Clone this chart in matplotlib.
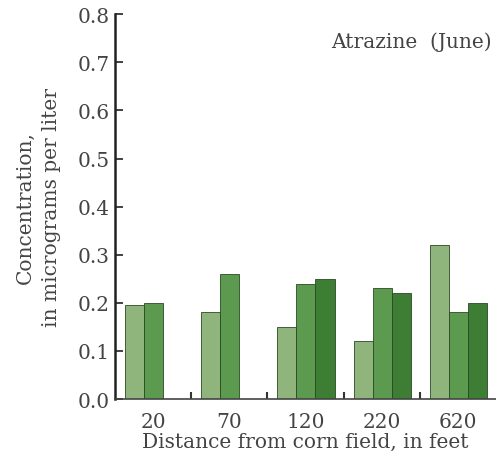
import matplotlib
matplotlib.use("Agg")
import matplotlib.pyplot as plt
import numpy as np

categories = ["20", "70", "120", "220", "620"]
light_vals = [0.195, 0.18, 0.15, 0.12, 0.32]
mid_vals = [0.20, 0.26, 0.24, 0.23, 0.18]
dark_vals = [np.nan, np.nan, 0.25, 0.22, 0.20]
yticks = [0.0, 0.1, 0.2, 0.3, 0.4, 0.5, 0.6, 0.7, 0.8]

plt.rcParams['font.family'] = ['DejaVu Serif']
txt = '#444444'
fs = 14.5

fig = plt.figure(figsize=(4.96, 4.60), dpi=100)
ax = fig.add_axes([0.232, 0.1304, 0.768, 0.8365])

x = np.arange(len(categories))
w = 0.25
off0 = -0.5 + 10/76.5 + w/2
colors = ['#8fb57c', '#5c9a50', '#3d7d34']
for i, (vals, c) in enumerate(zip([light_vals, mid_vals, dark_vals], colors)):
    ax.bar(x + off0 + i*w, vals, width=w, color=c, edgecolor='#2a4a25', linewidth=0.6)

ax.set_xlim(-0.5, len(categories) - 0.5)
ax.set_ylim(0, 0.8)
ax.set_yticks(yticks)
ax.set_yticklabels([f"{v:.1f}" for v in yticks], fontsize=fs, color=txt)
ax.set_xticks(x)
ax.set_xticklabels(categories, fontsize=fs, color=txt)
ax.tick_params(axis='x', which='major', length=0, pad=9)
ax.set_xticks(np.arange(0.5, len(categories) - 0.5, 1), minor=True)
ax.tick_params(axis='x', which='minor', direction='in', length=5, width=1.5, color='#333333')
ax.tick_params(axis='y', direction='in', length=6, width=1.2, color='#222222', pad=4)

for s in ['top', 'right']:
    ax.spines[s].set_visible(False)
ax.spines['left'].set_linewidth(1.8)
ax.spines['left'].set_color('#222222')
ax.spines['bottom'].set_linewidth(1.2)
ax.spines['bottom'].set_color('#444444')

ax.set_xlabel("Distance from corn field, in feet", fontsize=fs, color=txt, labelpad=1)
ax.set_ylabel("Concentration,\nin micrograms per liter", fontsize=fs, color=txt, labelpad=12, linespacing=1.45)
ax.text(0.99, 0.93, "Atrazine  (June)", transform=ax.transAxes, ha='right', va='center',
        fontsize=fs, color=txt)

fig.savefig("out.png", dpi=100)
